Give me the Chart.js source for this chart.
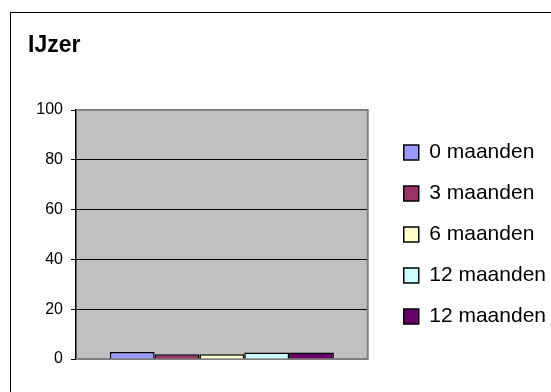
<!DOCTYPE html>
<html>
<head>
<meta charset="utf-8">
<script src="https://cdn.jsdelivr.net/npm/chart.js@4/dist/chart.umd.min.js"></script>
<style>
  html, body { margin: 0; padding: 0; background: #fff; overflow: hidden; }
  #wrap { position: relative; width: 551px; height: 392px; overflow: hidden; }
  #frame { position: absolute; left: 10px; top: 12px; width: 700px; height: 600px; border: 1px solid #000; box-sizing: border-box; }
  canvas { position: absolute; left: 0; top: 0; }
</style>
</head>
<body>
<div id="wrap">
  <div id="frame"></div>
  <canvas id="c" width="551" height="392"></canvas>
</div>
<script>
const chartTitle = 'IJzer';
const categories = [''];
const seriesNames = ['0 maanden', '3 maanden', '6 maanden', '12 maanden', '12 maanden'];
const seriesValues = [[2.8], [1.9], [1.9], [2.6], [2.6]];
const seriesColors = ['#9999FF', '#993366', '#FFFFCC', '#CCFFFF', '#660066'];
const yTicks = [0, 20, 40, 60, 80, 100];

const FONT = "'Liberation Sans', Arial, sans-serif";

const plotBg = {
  id: 'plotBg',
  beforeDraw(chart) {
    const {ctx, chartArea: a} = chart;
    ctx.save();
    ctx.fillStyle = '#C0C0C0';
    ctx.fillRect(a.left, a.top, a.right - a.left, a.bottom - a.top);
    ctx.restore();
  },
  beforeDatasetsDraw(chart) {
    const {ctx, chartArea: a} = chart;
    ctx.save();
    ctx.strokeStyle = '#808080';
    ctx.lineWidth = 2;
    ctx.beginPath();
    ctx.moveTo(a.left, a.top);
    ctx.lineTo(a.right, a.top);
    ctx.lineTo(a.right, a.bottom);
    ctx.lineTo(a.left, a.bottom);
    ctx.stroke();
    ctx.restore();
  }
};

new Chart(document.getElementById('c'), {
  type: 'bar',
  data: {
    labels: categories,
    datasets: seriesNames.map((n, i) => ({
      label: n,
      data: seriesValues[i],
      backgroundColor: seriesColors[i],
      borderColor: '#000',
      borderWidth: 1.5,
      categoryPercentage: 0.768,
      barPercentage: 1.0
    }))
  },
  options: {
    responsive: false,
    animation: false,
    devicePixelRatio: 1,
    layout: { padding: { left: 28, top: 0, right: -5, bottom: 33 } },
    plugins: {
      tooltip: { enabled: false },
      title: {
        display: true,
        text: chartTitle,
        align: 'start',
        color: '#000',
        font: { family: FONT, size: 23, weight: 'bold' },
        padding: { top: 31.4, bottom: 51 }
      },
      legend: {
        display: true,
        position: 'right',
        fullSize: false,
        align: 'center',
        maxWidth: 400,
        labels: {
          color: '#000',
          font: { family: FONT, size: 21 },
          boxWidth: 15,
          boxHeight: 15,
          padding: 20
        }
      }
    },
    scales: {
      x: {
        display: false
      },
      y: {
        position: 'left',
        min: 0,
        max: 100,
        afterBuildTicks: (s) => { s.ticks = yTicks.map(v => ({ value: v })); },
        afterFit: (s) => { s.width = 48; },
        ticks: {
          color: '#000',
          font: { family: FONT, size: 16 },
          padding: 8
        },
        grid: {
          color: '#000',
          lineWidth: 1,
          tickLength: 5,
          tickColor: '#000'
        },
        border: { display: true, color: '#000', width: 1.5 }
      },
      yr: {
        type: 'linear',
        position: 'right',
        display: true,
        grid: { display: false },
        ticks: { display: false },
        border: { display: false },
        afterFit: (s) => { s.width = 16; }
      }
    }
  },
  plugins: [plotBg]
});
</script>
</body>
</html>
